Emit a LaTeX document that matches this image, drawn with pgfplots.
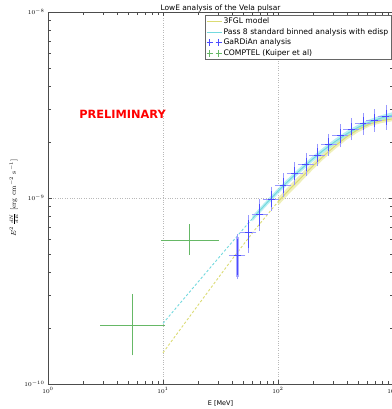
\documentclass[border=0pt]{standalone}
\usepackage[no-math]{fontspec}
\setmainfont{DejaVu Sans}
\usepackage{pgfplots}
\pgfplotsset{compat=1.18}
\definecolor{cyanl}{rgb}{0.45,0.85,0.87}
\definecolor{cyanb}{rgb}{0.55,0.90,0.92}
\definecolor{yell}{rgb}{0.86,0.86,0.45}
\definecolor{yelb}{rgb}{0.90,0.90,0.55}
\definecolor{bbar}{rgb}{0.30,0.30,1.0}
\definecolor{bcap}{rgb}{0.60,0.60,1.0}
\definecolor{gbar}{rgb}{0.40,0.72,0.40}
\pgfplotsset{
  lineleg/.style={legend image code/.code={\draw[##1] (0bp,0bp) -- (15bp,0bp);}},
  ebleg/.style={legend image code/.code={
     \draw[##1] (0bp,0bp) -- (6bp,0bp); \draw[##1] (3bp,-3.5bp) -- (3bp,3.5bp);
     \draw[##1] (9bp,0bp) -- (15bp,0bp); \draw[##1] (12bp,-3.5bp) -- (12bp,3.5bp);}},
}
\begin{document}
\begin{tikzpicture}
\begin{axis}[name=ax, width=345bp, height=372bp, scale only axis,
  xmode=log, ymode=log, xmin=1, xmax=1000, ymin=1e-10, ymax=1e-8,
  xtick={1,10,100,1000}, ytick={1e-10,1e-9,1e-8},
  grid=major, major grid style={dotted, gray!55, line width=0.4bp},
  axis line style={black!70}, tick style={black!70},
  tick label style={font=\fontsize{6.5}{7}\selectfont},
  title={LowE analysis of the Vela pulsar},
  title style={font=\fontsize{7.5}{9}\selectfont, yshift=-10bp},
  xlabel={E [MeV]}, xlabel style={font=\fontsize{6.5}{8}\selectfont},
  ylabel={$E^2\,\frac{dN}{dE}\ [\mathrm{erg\ cm^{-2}\ s^{-1}}]$},
  ylabel style={at={(axis description cs:-0.099,0.5)}, anchor=center, font=\fontsize{7}{8}\selectfont},
  legend style={at={(0.995,0.992)}, anchor=north east, font=\fontsize{7.7}{9.2}\selectfont,
    draw=black!60, inner sep=1.5bp, row sep=0.6bp, nodes={inner sep=1.3bp}},
  legend cell align=left,
]
\addlegendimage{yell, line width=1bp, lineleg}
\addlegendentry{3FGL model}
\addlegendimage{cyanl, line width=1bp, lineleg}
\addlegendentry{Pass 8 standard binned analysis with edisp}
\addlegendimage{bbar, line width=0.6bp, ebleg}
\addlegendentry{GaRDiAn analysis}
\addlegendimage{gbar, line width=0.6bp, ebleg}
\addlegendentry{COMPTEL (Kuiper et al)}

% 3FGL band
\addplot[forget plot, draw=none, fill=yelb, fill opacity=0.6] coordinates {
(100,1.003e-9) (125.9,1.168e-9) (158.5,1.349e-9) (199.5,1.546e-9) (251.2,1.758e-9)
(316.2,1.991e-9) (398.1,2.213e-9) (501.2,2.426e-9) (631,2.581e-9) (794.3,2.684e-9) (1000,2.747e-9)
(1000,2.590e-9) (794.3,2.530e-9) (631,2.433e-9) (501.2,2.264e-9) (398.1,2.065e-9)
(316.2,1.841e-9) (251.2,1.626e-9) (199.5,1.415e-9) (158.5,1.223e-9) (125.9,1.059e-9) (100,9.09e-10)
};
% Pass 8 band
\addplot[forget plot, draw=none, fill=cyanb, fill opacity=0.6] coordinates {
(60,8.03e-10) (63.1,8.316e-10) (79.43,9.704e-10) (100,1.127e-9) (125.9,1.297e-9) (158.5,1.479e-9)
(199.5,1.675e-9) (251.2,1.880e-9) (316.2,2.089e-9) (398.1,2.296e-9) (501.2,2.488e-9)
(631,2.654e-9) (794.3,2.792e-9) (1000,2.897e-9)
(1000,2.704e-9) (794.3,2.606e-9) (631,2.477e-9) (501.2,2.322e-9) (398.1,2.143e-9) (316.2,1.949e-9)
(251.2,1.754e-9) (199.5,1.563e-9) (158.5,1.380e-9) (125.9,1.210e-9) (100,1.052e-9) (79.43,9.057e-10)
(63.1,7.762e-10) (60,7.50e-10)
};
% dashed extrapolations
\addplot[forget plot, yell, line width=0.9bp, dash pattern=on 2.5bp off 2bp] coordinates {
(10,1.472e-10) (19.95,2.630e-10) (39.81,4.677e-10) (63.1,6.761e-10) (100,9.550e-10)};
\addplot[forget plot, cyanl, line width=0.9bp, dash pattern=on 2.5bp off 2bp] coordinates {
(10,2.118e-10) (19.95,3.508e-10) (31.62,4.898e-10) (50.12,6.839e-10) (60,7.76e-10)};
% solid model lines
\addplot[forget plot, yell, line width=1bp] coordinates {
(100,9.550e-10) (125.9,1.112e-9) (158.5,1.285e-9) (199.5,1.479e-9) (251.2,1.690e-9)
(316.2,1.914e-9) (398.1,2.138e-9) (501.2,2.344e-9) (631,2.506e-9) (794.3,2.606e-9) (1000,2.667e-9)};
\addplot[forget plot, cyanl, line width=1bp] coordinates {
(60,7.76e-10) (63.1,8.035e-10) (79.43,9.376e-10) (100,1.089e-9) (125.9,1.253e-9) (158.5,1.429e-9)
(199.5,1.618e-9) (251.2,1.816e-9) (316.2,2.018e-9) (398.1,2.218e-9) (501.2,2.404e-9)
(631,2.564e-9) (794.3,2.698e-9) (1000,2.799e-9)};

% COMPTEL
\addplot[forget plot, only marks, mark=*, mark size=0pt, mark options={draw=none, fill=none},
  error bars/.cd, x dir=both, y dir=both, x explicit, y explicit,
  error bar style={gbar, line width=0.7bp}, error mark options={gbar, draw=gbar, mark size=2bp, line width=0.6bp}]
  table[x=E, y=F, x error minus=xm, x error plus=xp, y error minus=ym, y error plus=yp] {
E F xm xp ym yp
5.41 2.08e-10 2.46 4.59 0.62e-10 0.90e-10
17.1 5.91e-10 7.1 12.1 0.86e-10 1.14e-10
};

% GaRDiAn first point wide light bar
\addplot[forget plot, bcap, line width=2.2bp, opacity=0.8] coordinates {(44.4,3.77e-10) (44.4,6.2e-10)};
% GaRDiAn
\addplot[forget plot, only marks, mark=*, mark size=0pt, mark options={draw=none, fill=none},
  error bars/.cd, x dir=both, y dir=both, x explicit, y explicit,
  error bar style={bbar, line width=0.6bp}, error mark options={bcap, draw=bcap, mark size=2.3bp, line width=0.6bp}]
  table[x=E, y=F, x error minus=xm, x error plus=xp, y error minus=ym, y error plus=yp] {
E F xm xp ym yp
44.4 4.94e-10 4.8 5.4 1.17e-10 1.26e-10
55.3 6.54e-10 6.0 6.7 1.33e-10 1.33e-10
69.4 8.2e-10 7.5 8.5 1.33e-10 1.35e-10
87.5 9.9e-10 9.5 10.7 1.17e-10 1.30e-10
110.5 1.175e-9 12.0 13.5 1.37e-10 1.43e-10
139.5 1.36e-9 15.2 17.0 1.52e-10 1.57e-10
174.7 1.517e-9 19.0 21.3 1.60e-10 1.70e-10
218.9 1.702e-9 23.8 26.7 1.78e-10 2.03e-10
276.5 1.945e-9 30.0 33.7 2.07e-10 2.08e-10
349 2.163e-9 38.0 42.6 2.35e-10 2.52e-10
434.7 2.339e-9 47.3 53.0 2.30e-10 2.79e-10
548 2.518e-9 59.6 66.9 2.64e-10 2.75e-10
687 2.606e-9 74.7 83.8 2.67e-10 3.05e-10
867 2.735e-9 94.2 105.8 3.36e-10 3.41e-10
};

\node[text=red, font=\bfseries\fontsize{11.4}{13}\selectfont] at (rel axis cs:0.216,0.726) {PRELIMINARY};
\end{axis}
\pgfresetboundingbox
\path[use as bounding box] ([shift={(-48bp,-25bp)}]ax.south west) rectangle ([shift={(-1bp,12bp)}]ax.north east);
\end{tikzpicture}
\end{document}
